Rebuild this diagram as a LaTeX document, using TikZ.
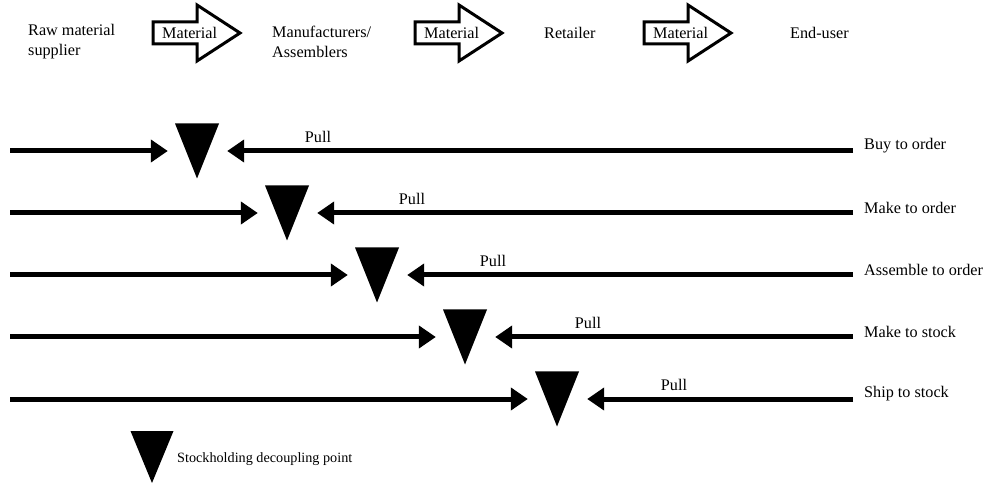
\documentclass[tikz,border=0pt]{standalone}
\usepackage{fontspec}
\setmainfont{Liberation Serif}
\usepackage{tikz}
\usetikzlibrary{
    calc,
    arrows.meta
}
\tikzset{
    lbl/.style={font=\fontsize{16.2bp}{20bp}\selectfont, inner sep=0pt, anchor=west, align=left},
    flow/.style={line width=5bp, -{Triangle[length=17bp,width=22bp]}},
    matarrow/.style={line width=3bp, line join=miter},
    dpoint/.style={minimum width=44bp, minimum height=55bp, inner sep=0pt,
        path picture={\fill (path picture bounding box.north west)
            -- (path picture bounding box.north east)
            -- (path picture bounding box.south) -- cycle;}}
}

\begin{document}
\begin{tikzpicture}[x=1bp,y=-1bp]
        \useasboundingbox (0,0) rectangle (991,483);

        % chain along the top
        \begin{scope}[shift={(0,0)}]
            \draw ( 28,42) node[lbl](rm){Raw material\\supplier};
            \draw (272,42) node[lbl](ma){Manufacturers/\\Assemblers};
            \draw (544,33) node[lbl](re){Retailer};
            \draw (790,33) node[lbl](eu){End-user};

            \draw (153,33) coordinate(a1);
            \draw (415,33) coordinate(a2);
            \draw (644,33) coordinate(a3);
            \draw[matarrow] (a1) ++(0,-11) -- ++(44,0) -- ++(0,-17) -- ++(43,28) -- ++(-43,28) -- ++(0,-17) -- ++(-44,0) -- cycle;
            \draw[matarrow] (a2) ++(0,-11) -- ++(44,0) -- ++(0,-17) -- ++(43,28) -- ++(-43,28) -- ++(0,-17) -- ++(-44,0) -- cycle;
            \draw[matarrow] (a3) ++(0,-11) -- ++(44,0) -- ++(0,-17) -- ++(43,28) -- ++(-43,28) -- ++(0,-17) -- ++(-44,0) -- cycle;
            \draw ($(a1)+(9,0)$) node[lbl](m1){Material};
            \draw ($(a2)+(9,0)$) node[lbl](m2){Material};
            \draw ($(a3)+(9,0)$) node[lbl](m3){Material};
        \end{scope}

        % the five strategies
        \begin{scope}[shift={(0,0)}]
            \draw (10,151) coordinate(s1);  \draw (853,151) coordinate(e1);
            \draw (10,213) coordinate(s2);  \draw (853,213) coordinate(e2);
            \draw (10,275) coordinate(s3);  \draw (853,275) coordinate(e3);
            \draw (10,337) coordinate(s4);  \draw (853,337) coordinate(e4);
            \draw (10,399) coordinate(s5);  \draw (853,399) coordinate(e5);

            \node[dpoint] (d1) at (197,151) {};
            \node[dpoint] (d2) at (287,213) {};
            \node[dpoint] (d3) at (377,275) {};
            \node[dpoint] (d4) at (465,337) {};
            \node[dpoint] (d5) at (557,399) {};

            \draw[flow,shorten >=7bp] (s1) to (d1);
            \draw[flow,shorten >=7bp] (s2) to (d2);
            \draw[flow,shorten >=7bp] (s3) to (d3);
            \draw[flow,shorten >=7bp] (s4) to (d4);
            \draw[flow,shorten >=7bp] (s5) to (d5);
            \draw[flow,shorten >=8bp] (e1) to (d1);
            \draw[flow,shorten >=8bp] (e2) to (d2);
            \draw[flow,shorten >=8bp] (e3) to (d3);
            \draw[flow,shorten >=8bp] (e4) to (d4);
            \draw[flow,shorten >=8bp] (e5) to (d5);

            \draw (318,137) node[lbl,anchor=center](p1){Pull};
            \draw (412,199) node[lbl,anchor=center](p2){Pull};
            \draw (493,261) node[lbl,anchor=center](p3){Pull};
            \draw (588,323) node[lbl,anchor=center](p4){Pull};
            \draw (674,385) node[lbl,anchor=center](p5){Pull};

            \draw (864,146) node[lbl](l1){Buy to order};
            \draw (864,208) node[lbl](l2){Make to order};
            \draw (864,270) node[lbl](l3){Assemble to order};
            \draw (864,332) node[lbl](l4){Make to stock};
            \draw (864,394) node[lbl](l5){Ship to stock};
        \end{scope}

        % legend
        \node[dpoint,minimum width=43bp,minimum height=52bp] (d6) at (152,457) {};
        \draw (177,459) node[lbl,font=\fontsize{14.2bp}{17bp}\selectfont](lg){Stockholding decoupling point};
    \end{tikzpicture}
\end{document}
